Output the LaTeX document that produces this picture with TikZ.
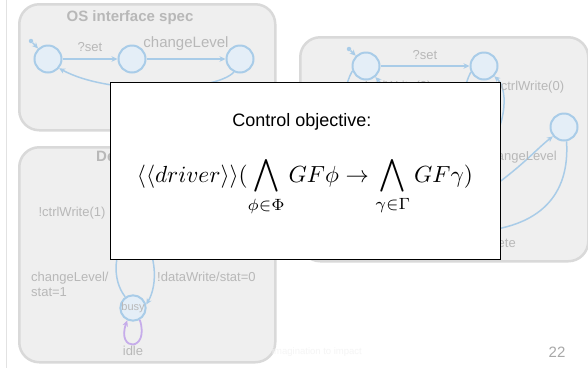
\documentclass[tikz,border=0pt]{standalone}
\usepackage{amsmath}
\usepackage{amssymb}
\usepackage{graphicx}
\usepackage{fontspec}
\usepackage{tikz}
\usetikzlibrary{positioning, arrows.meta, calc}
\newfontfamily\slidefont{Liberation Sans}
\definecolor{panelbg}{HTML}{EFEFEF}
\definecolor{panelline}{HTML}{D9D9D9}
\definecolor{statebg}{HTML}{E4EEF7}
\definecolor{stateline}{HTML}{A9CCE8}
\definecolor{faded}{HTML}{B8B8B8}
\definecolor{loopline}{HTML}{C6ACEA}
\definecolor{pagegray}{HTML}{A8A8A8}
\definecolor{rulegray}{HTML}{E2E2E2}
\definecolor{footgray}{HTML}{F5F5F5}
\tikzset{
  panel/.style      = {rectangle, rounded corners=20pt, draw=panelline, line width=2.5pt,
                       fill=panelbg, anchor=north west, inner sep=0pt},
  paneltitle/.style = {font=\slidefont\bfseries\fontsize{15}{18}\selectfont, text=faded,
                       inner sep=0pt},
  st/.style         = {circle, draw=stateline, line width=2pt, fill=statebg,
                       minimum size=27pt, inner sep=0pt,
                       font=\slidefont\fontsize{11}{13}\selectfont, text=faded},
  lbl/.style        = {font=\slidefont\fontsize{13}{15}\selectfont, text=faded, inner sep=0pt},
  initdot/.style    = {circle, fill=stateline, minimum size=4.5pt, inner sep=0pt},
  tr/.style         = {-{Stealth[length=6pt,width=5.5pt]}, line width=1.5pt, draw=stateline},
  idleloop/.style   = {-{Stealth[length=6pt,width=5.5pt]}, line width=1.8pt, draw=loopline},
  goalbox/.style    = {rectangle, draw=black, line width=1.3pt, fill=white,
                       anchor=north west},
}
\begin{document}
\begin{tikzpicture}[x=1pt, y=-1pt]
  \fill[white] (0,0) rectangle (588,368);
  \useasboundingbox (0,0) rectangle (588,368);
  \draw[rulegray, line width=1pt] (6.5,0) -- (6.5,368);

  % OS interface spec
  \node[panel, minimum width=256pt, minimum height=126pt] (ospanel) at (18,3) {};
  \node[paneltitle] (ostitle) at (130,18) {OS interface spec};
  \node[st] (os1) at (48,59) {};
  \node[st, right=55pt of os1] (os2) {};
  \node[st, right=79pt of os2] (os3) {};
  \node[initdot] (osinit) at (31,41) {};
  \draw[tr] (osinit) -- (os1);
  \draw[tr] (os1) -- node[lbl, above=7pt] {?set} (os2);
  \draw[tr] (os2) -- node[lbl, above=8pt, font=\slidefont\fontsize{15}{18}\selectfont] {changeLevel} (os3);
  \draw[tr] (os3.-115) .. controls (215,92) and (110,96) .. (os1.-40);

  % driver side
  \node[panel, minimum width=288pt, minimum height=224pt] (drvpanel) at (299,36) {};
  \node[st] (d1) at (366,66) {};
  \node[st, right=89pt of d1] (d2) {};
  \node[st] (d3) at (564,127) {};
  \node[initdot] (dinit) at (349,49) {};
  \coordinate (dh1) at (366,160);
  \coordinate (dh2) at (478,160);
  \coordinate (dh3) at (465,205);
  \coordinate (dh4) at (470,232);
  \draw[tr] (dinit) -- (d1);
  \draw[tr] (d1) -- node[lbl, above=6pt] {?set} (d2);
  \draw[tr] (d1.200) .. controls (338,95) and (345,140) .. (dh1);
  \draw[tr] (dh1) .. controls (392,130) and (388,90) .. (d1.-50);
  \node[lbl] (dlbl1) at (398,87) {!ctrlWrite(0)};
  \draw[tr] (d2.205) .. controls (458,95) and (462,140) .. (dh2);
  \draw[tr] (dh2) .. controls (506,135) and (510,90) .. (d2.-45);
  \node[lbl, anchor=west] (dlbl2) at (497,87) {!ctrlWrite(0)};
  \draw[tr] (dh3) .. controls (515,175) and (535,150) .. (d3.220);
  \node[lbl] (dlbl3) at (520,157) {changeLevel};
  \draw[tr] (d3.-80) .. controls (570,195) and (540,228) .. (dh4);
  \node[lbl, anchor=east] (dlbl4) at (516,244) {?complete};

  % device side
  \node[panel, minimum width=256pt, minimum height=215pt] (devpanel) at (18,146) {};
  \node[paneltitle, anchor=west] (devtitle) at (96,158) {Device spec};
  \node[st, minimum size=25pt] (busy) at (133,308) {busy};
  \coordinate (bh) at (135,225);
  \draw[tr] (busy.125) .. controls (112,280) and (112,250) .. (bh);
  \draw[tr] (bh) .. controls (158,250) and (158,285) .. (busy.15);
  \node[lbl] (blbl1) at (72,213) {!ctrlWrite(1)};
  \node[lbl, anchor=west, align=left] (blbl2) at (31,284.5) {changeLevel/\\stat=1};
  \node[lbl, anchor=west] (blbl3) at (157,277) {!dataWrite/stat=0};
  \draw[idleloop] (busy.-60) .. controls (150,352) and (116,352) .. (busy.-115);
  \node[lbl, below=24pt of busy] (idle) {idle};

  % control objective overlay
  \node[goalbox, minimum width=390pt, minimum height=177pt] (goal) at (110,82) {};
  \node[font=\slidefont\fontsize{18}{22}\selectfont] (goalhead) at (302,122) {Control objective:};
  \node[anchor=base] (goalformula) at (305,182)
    {\scalebox{2.33}{$\displaystyle \langle\langle driver\rangle\rangle(\bigwedge_{\phi\in\Phi} GF\phi \rightarrow \bigwedge_{\gamma\in\Gamma} GF\gamma)$}};

  % footer
  \node[font=\slidefont\fontsize{9.5}{11}\selectfont, text=footgray] (tagline) at (317,352) {imagination to impact};
  \node[font=\slidefont\fontsize{15}{18}\selectfont, text=pagegray] (pageno) at (557,352) {22};
\end{tikzpicture}
\end{document}
